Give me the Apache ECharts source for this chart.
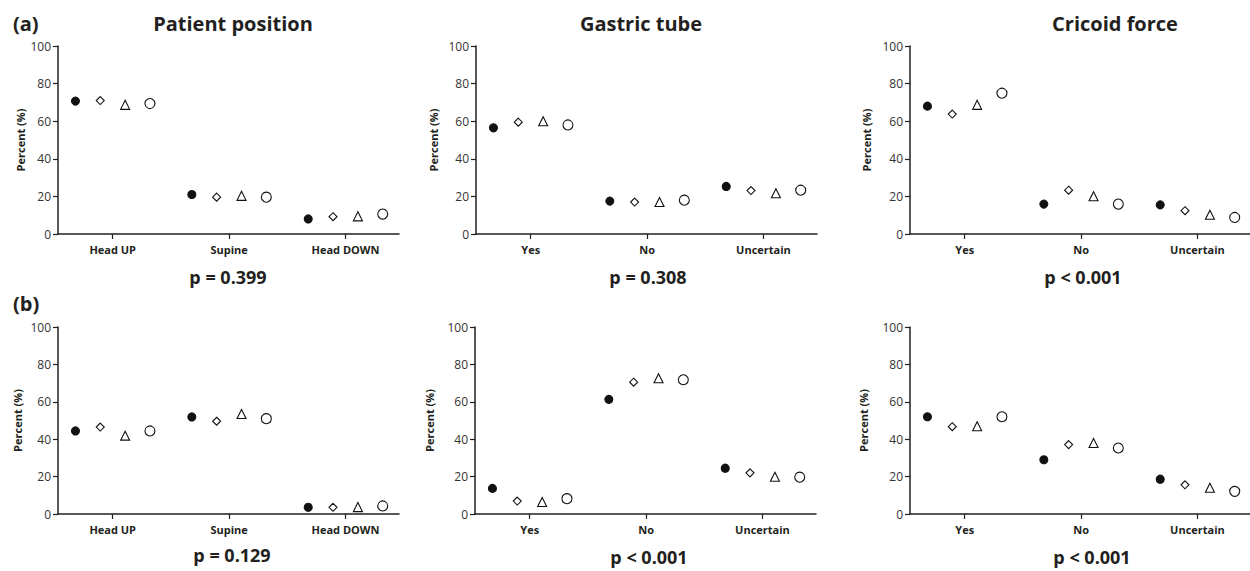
<!DOCTYPE html>
<html>
<head>
<meta charset="utf-8">
<script src="https://cdn.jsdelivr.net/npm/echarts@6/dist/echarts.min.js"></script>
<style>
  html, body { margin: 0; padding: 0; background: #fff; }
  #main { width: 1250px; height: 571px; }
</style>
</head>
<body>
<div id="main"></div>
<script>
// categories
const positionCats = ['Head UP', 'Supine', 'Head DOWN'];
const answerCats = ['Yes', 'No', 'Uncertain'];
const titles = ['Patient position', 'Gastric tube', 'Cricoid force'];
const pValues = ['p = 0.399', 'p = 0.308', 'p < 0.001', 'p = 0.129', 'p < 0.001', 'p < 0.001'];
const yTicks = [0, 20, 40, 60, 80, 100];

// values: one row per marker group (filled circle, diamond, triangle, open circle)
const patientA = [[70.7, 21.0, 8.0], [71.0, 19.6, 9.2], [68.7, 20.3, 9.4], [69.4, 19.6, 10.6]];
const gastricA = [[56.5, 17.5, 25.3], [59.5, 17.0, 23.1], [60.0, 17.0, 21.7], [58.0, 18.0, 23.3]];
const cricoidA = [[68.0, 15.9, 15.5], [63.8, 23.3, 12.4], [68.7, 20.1, 10.2], [74.9, 15.9, 8.8]];
const patientB = [[44.4, 51.9, 3.6], [46.5, 49.6, 3.6], [41.9, 53.5, 3.7], [44.4, 51.0, 4.3]];
const gastricB = [[13.7, 61.3, 24.5], [6.9, 70.5, 22.0], [6.4, 72.6, 19.9], [8.2, 71.8, 19.7]];
const cricoidB = [[52.0, 29.0, 18.6], [46.7, 37.1, 15.6], [46.9, 38.0, 14.0], [52.0, 35.3, 12.1]];

const panels = [
  { cats: positionCats, data: patientA, left: 58, top: 46, h: 188, gap: 32 },
  { cats: answerCats, data: gastricA, left: 476, top: 46, h: 188, gap: 37 },
  { cats: answerCats, data: cricoidA, left: 910, top: 46, h: 188, gap: 38 },
  { cats: positionCats, data: patientB, left: 58, top: 327, h: 187, gap: 35 },
  { cats: answerCats, data: gastricB, left: 475, top: 327, h: 187, gap: 40 },
  { cats: answerCats, data: cricoidB, left: 910, top: 327, h: 187, gap: 41 }
];

const offsets = [-0.32, -0.107, 0.107, 0.32];
const markers = [
  { symbol: 'circle', size: 8, fill: '#111' },
  { symbol: 'diamond', size: 8, fill: '#fff' },
  { symbol: 'triangle', size: 9, fill: '#fff' },
  { symbol: 'circle', size: 10, fill: '#fff' }
];

const ink = '#231f20';
const font = 'Open Sans';

const grid = [], xAxis = [], yAxis = [], series = [];
panels.forEach((p, i) => {
  grid.push({ left: p.left, top: p.top, width: 341, height: p.h, outerBoundsMode: 'none' });
  xAxis.push({
    type: 'value', gridIndex: i, min: -0.47, max: 2.46,
    splitLine: { show: false },
    axisLine: { show: true, onZero: false, lineStyle: { color: ink, width: 1.5 } },
    axisTick: { show: true, length: 5, customValues: [0, 1, 2], lineStyle: { color: ink, width: 1.2 } },
    axisLabel: {
      customValues: [0, 1, 2], margin: 10,
      formatter: v => p.cats[Math.round(v)],
      fontFamily: font, fontWeight: 'bold', fontSize: 11, color: ink
    }
  });
  yAxis.push({
    type: 'value', gridIndex: i,
    min: yTicks[0], max: yTicks[yTicks.length - 1], interval: yTicks[1] - yTicks[0],
    name: 'Percent (%)', nameLocation: 'middle', nameGap: p.gap,
    nameTextStyle: { fontFamily: font, fontWeight: 'bold', fontSize: 11, color: ink },
    splitLine: { show: false },
    axisLine: { show: true, onZero: false, lineStyle: { color: ink, width: 1.5 } },
    axisTick: { show: true, length: 5, lineStyle: { color: ink, width: 1.2 } },
    axisLabel: { fontFamily: font, fontSize: 12, color: '#333333', margin: 7 }
  });
  p.data.forEach((vals, g) => {
    const m = markers[g];
    series.push({
      type: 'scatter', xAxisIndex: i, yAxisIndex: i,
      symbol: m.symbol, symbolSize: m.size,
      itemStyle: { color: m.fill, borderColor: '#111', borderWidth: 1.1, opacity: 1 },
      silent: true,
      data: vals.map((v, c) => [c + offsets[g], v])
    });
  });
});

const titleFont = 'bold 20px "Open Sans"';
const graphic = [
  { type: 'text', x: 13, y: 23, style: { text: '(a)', font: titleFont, fill: ink, align: 'left', verticalAlign: 'middle' } },
  { type: 'text', x: 13, y: 303, style: { text: '(b)', font: titleFont, fill: ink, align: 'left', verticalAlign: 'middle' } },
  { type: 'text', x: 233, y: 23, style: { text: titles[0], font: titleFont, fill: ink, align: 'center', verticalAlign: 'middle' } },
  { type: 'text', x: 641, y: 23, style: { text: titles[1], font: titleFont, fill: ink, align: 'center', verticalAlign: 'middle' } },
  { type: 'text', x: 1115, y: 23, style: { text: titles[2], font: titleFont, fill: ink, align: 'center', verticalAlign: 'middle' } }
];
const pPos = [[228, 277], [648, 277], [1083, 277], [232, 555], [649, 557], [1092, 557]];
pValues.forEach((t, i) => {
  graphic.push({
    type: 'text', x: pPos[i][0], y: pPos[i][1],
    style: { text: t, font: 'bold 18px "Open Sans"', fill: ink, align: 'center', verticalAlign: 'middle' }
  });
});

const chart = echarts.init(document.getElementById('main'), null, { renderer: 'svg' });
chart.setOption({
  animation: false,
  backgroundColor: '#fff',
  grid, xAxis, yAxis, series, graphic
});
</script>
</body>
</html>
